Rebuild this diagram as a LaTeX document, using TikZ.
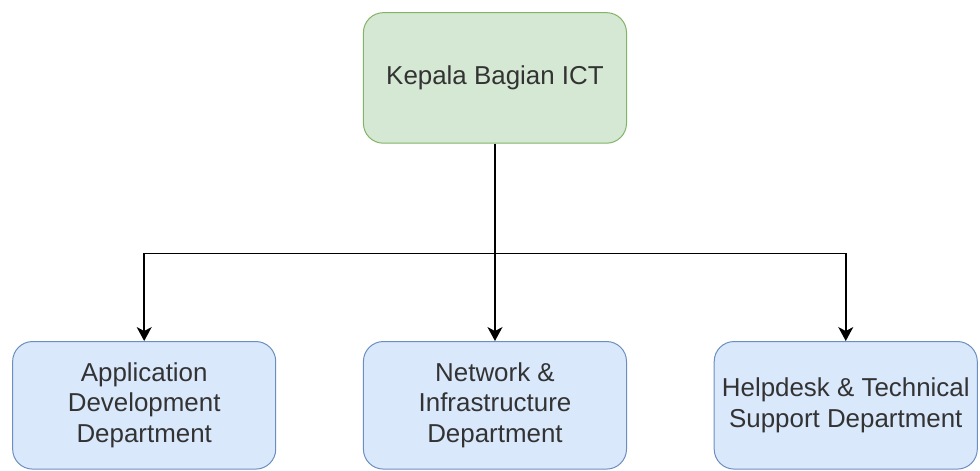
\documentclass[tikz,border=0pt]{standalone}
\usepackage{fontspec}
\setmainfont{Liberation Sans}
\usetikzlibrary{matrix, arrows.meta, calc}
\definecolor{headfill}{HTML}{D5E8D4}
\definecolor{headline}{HTML}{82B366}
\definecolor{deptfill}{HTML}{DAE8FC}
\definecolor{deptline}{HTML}{6C8EBF}
\definecolor{textgray}{HTML}{333333}

\begin{document}
\begin{tikzpicture} [
  box/.style = {draw, rounded corners = 20pt, line width = 1pt, minimum width = 264pt, inner sep = 2pt, align = center, text = textgray, font = \fontsize{26}{30.5}\selectfont},
  head/.style = {box, fill = headfill, draw = headline, minimum height = 131pt},
  dept/.style = {box, fill = deptfill, draw = deptline, minimum height = 128pt},
  link/.style = {line width = 1.8pt, -{Stealth[length = 14pt, width = 15pt, inset = 4pt]}}
]
\matrix (m) [column sep = 87pt, row sep = 198pt, inner sep = 0pt]{
& \node[head](k){Kepala Bagian ICT}; & \\
\node[dept](a){Application\\Development\\Department}; & \node[dept](n){Network \&\\Infrastructure\\Department}; & \node[dept](h){Helpdesk \& Technical\\Support Department}; \\
};
\coordinate (bus) at ($(k.south)!0.556!(n.north)$);
\draw [link] (k.south) -- (n.north);
\draw [link] (bus) -| (a.north);
\draw [link] (bus) -| (h.north);
\useasboundingbox ($(m.north west)+(-12pt,12pt)$) rectangle ($(m.south east)+(2pt,-1pt)$);
\end{tikzpicture}
\end{document}
